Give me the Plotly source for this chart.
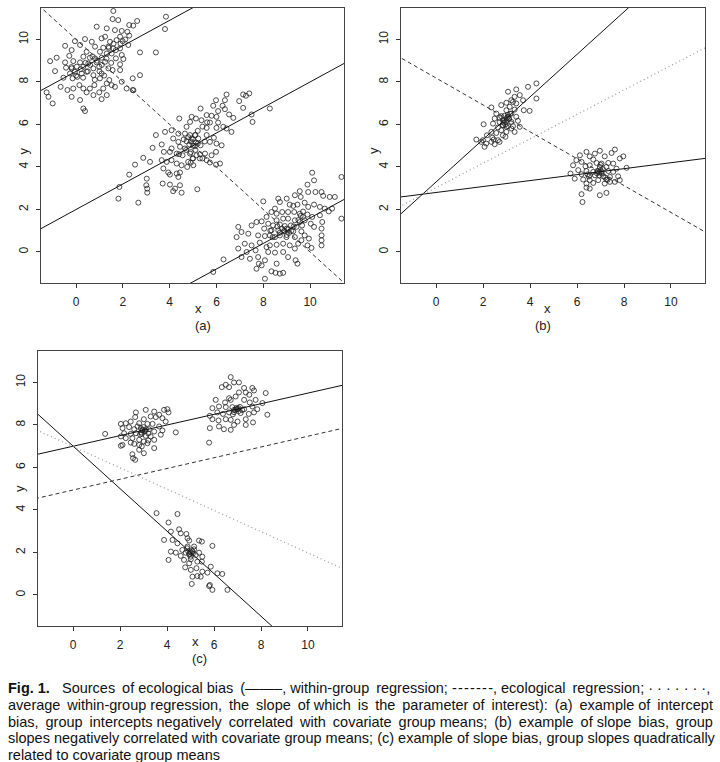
import plotly.graph_objects as go

# ---------- data: points (x, y) ----------
# panel (a), three groups
A1 = [(1.59, 11.34), (1.56, 10.96), (1.80, 10.91), (0.88, 10.6), (1.31, 10.52), (1.66, 10.44), (1.95, 10.4),
      (2.27, 10.68), (2.44, 10.65), (2.61, 10.87), (3.84, 11.07), (3.80, 10.49), (2.19, 10.36), (2.27, 10.18),
      (1.88, 10.13), (1.24, 10.13), (1.09, 10.05), (0.38, 10.02), (-0.05, 9.92), (0.67, 9.89), (1.45, 9.89),
      (1.73, 9.97), (1.99, 9.92), (-0.47, 9.70), (0.17, 9.74), (0.81, 9.66), (1.16, 9.61), (1.38, 9.66),
      (1.59, 9.58), (1.88, 9.58), (2.23, 9.74), (-0.19, 9.5), (0.45, 9.42), (1.02, 9.42), (1.31, 9.34),
      (1.52, 9.34), (1.95, 9.27), (2.73, 9.39), (3.41, 9.39), (-0.83, 9.14), (-0.29, 9.23), (0.31, 9.19),
      (0.59, 9.14), (0.81, 9.11), (1.09, 9.14), (1.70, 9.11), (2.02, 9.08), (-1.11, 8.98), (-0.47, 8.92),
      (-0.12, 8.98), (0.17, 8.92), (0.52, 8.87), (0.88, 8.92), (1.24, 8.95), (1.88, 8.83), (-0.43, 8.67),
      (-0.19, 8.64), (0.03, 8.72), (0.31, 8.72), (0.74, 8.64), (0.99, 8.72), (1.38, 8.64), (1.56, 8.56),
      (-0.9, 8.51), (-0.26, 8.4), (-0.05, 8.48), (0.24, 8.4), (0.45, 8.48), (0.74, 8.32), (1.09, 8.4),
      (1.88, 8.56), (2.73, 8.32), (-0.54, 8.2), (-0.15, 8.17), (0.05, 8.24), (1.02, 8.17), (1.42, 8.09),
      (1.95, 8.01), (2.42, 8.17), (-1.26, 7.51), (-1.18, 7.3), (-1.0, 6.99), (-0.66, 7.77), (-0.37, 7.62),
      (-0.12, 7.69), (0.14, 7.85), (0.31, 7.69), (0.45, 7.51), (0.59, 7.69), (0.78, 7.85), (0.99, 7.51),
      (1.16, 7.69), (1.31, 7.38), (1.52, 7.85), (1.66, 7.77), (1.31, 7.93), (-0.19, 7.3), (0.17, 7.15),
      (0.74, 7.38), (1.09, 7.19), (0.31, 6.75), (0.38, 6.63), (2.42, 7.62), (2.16, 7.69), (2.45, 7.61),
      (0.4, 8.9), (0.6, 8.8), (0.9, 9.0), (1.1, 8.8), (1.3, 9.1), (0.2, 8.6), (0.5, 8.5), (1.0, 8.5),
      (1.2, 8.3), (0.7, 9.2), (1.4, 9.6), (1.6, 9.8), (1.7, 9.5), (0.0, 8.3), (0.3, 8.2), (0.8, 8.1),
      (1.5, 8.9), (1.9, 9.8), (2.1, 10.0), (-0.2, 8.7)]
A2 = [(6.43, 7.41), (6.36, 7.14), (7.14, 7.41), (7.4, 7.46), (7.26, 7.35), (5.98, 7.14), (6.97, 7.1),
      (6.26, 6.88), (6.36, 6.72), (5.86, 6.88), (5.32, 6.75), (7.14, 6.78), (8.28, 6.75), (6.07, 6.63),
      (6.54, 6.47), (6.72, 6.31), (7.5, 6.47), (7.54, 6.12), (5.58, 6.44), (5.79, 6.41), (6.0, 6.36),
      (4.94, 6.36), (5.12, 6.28), (5.36, 6.2), (4.41, 6.28), (4.87, 6.12), (5.72, 6.09), (6.07, 6.09),
      (6.29, 5.89), (6.43, 5.81), (6.64, 5.65), (6.0, 5.84), (4.72, 5.89), (5.58, 5.84), (4.08, 5.73),
      (3.8, 5.65), (3.41, 5.5), (4.37, 5.57), (4.65, 5.57), (4.87, 5.5), (5.08, 5.5), (5.22, 5.34),
      (5.58, 5.5), (5.89, 5.37), (4.94, 5.34), (4.72, 5.21), (5.12, 5.15), (4.84, 5.06), (5.08, 4.99),
      (5.32, 5.02), (4.15, 5.34), (4.37, 5.18), (4.44, 4.95), (4.65, 4.87), (5.72, 5.18), (6.0, 5.1),
      (6.22, 5.02), (3.66, 5.06), (4.08, 4.87), (3.27, 4.9), (3.75, 4.71), (4.01, 4.71), (4.3, 4.63),
      (4.55, 4.55), (4.87, 4.63), (5.15, 4.55), (5.51, 4.63), (5.79, 4.55), (5.98, 4.71), (4.98, 4.4),
      (5.29, 4.4), (5.58, 4.32), (5.72, 4.21), (5.98, 4.11), (6.15, 4.16), (2.87, 4.43), (2.52, 4.11),
      (3.66, 4.32), (3.87, 4.24), (4.08, 4.32), (4.3, 4.16), (4.51, 4.08), (4.75, 4.0), (5.01, 4.08),
      (4.79, 4.24), (3.16, 4.24), (3.73, 3.93), (3.94, 3.74), (4.3, 3.69), (4.44, 3.74), (4.01, 3.64),
      (4.37, 3.53), (2.27, 3.64), (3.02, 3.45), (3.7, 3.22), (4.01, 3.17), (4.44, 3.14), (4.23, 2.98),
      (4.15, 2.86), (4.51, 2.79), (5.18, 2.95), (3.0, 3.14), (3.04, 2.98), (1.85, 3.06), (1.81, 2.51),
      (2.66, 2.32), (3.04, 2.79), (5.0, 5.3), (5.1, 5.5), (4.9, 5.2), (5.0, 5.0), (5.2, 5.1), (4.8, 5.4),
      (5.1, 4.8), (4.9, 4.7), (5.3, 4.6), (5.0, 4.4), (4.7, 4.8), (5.2, 5.7), (5.4, 5.9), (5.6, 6.1),
      (4.6, 5.3), (4.4, 4.6), (5.5, 5.2), (4.9, 4.2), (5.4, 4.4)]
A3 = [(10.09, 3.73), (10.17, 3.37), (9.89, 3.17), (9.56, 2.86), (9.35, 2.67), (9.6, 2.59), (9.92, 2.82),
      (10.23, 2.82), (10.49, 2.82), (10.56, 2.64), (10.84, 2.59), (11.06, 2.59), (11.34, 3.53), (11.34, 1.57),
      (8.0, 2.38), (8.64, 2.51), (8.71, 2.35), (9.0, 2.51), (9.13, 2.23), (9.28, 2.17), (9.46, 2.23),
      (9.77, 2.32), (9.92, 2.12), (10.17, 2.23), (10.42, 2.12), (10.63, 2.04), (10.8, 1.91), (10.94, 2.04),
      (8.5, 2.04), (8.35, 1.88), (8.57, 1.8), (8.81, 1.88), (9.06, 1.88), (9.32, 1.88), (9.56, 1.8),
      (9.7, 1.65), (9.89, 1.76), (10.09, 1.65), (10.42, 1.73), (10.52, 1.41), (9.77, 1.49), (9.56, 1.41),
      (9.35, 1.49), (9.06, 1.57), (8.85, 1.57), (8.57, 1.49), (8.14, 1.65), (7.93, 1.44), (7.71, 1.41),
      (7.5, 1.25), (8.21, 1.33), (8.42, 1.25), (8.71, 1.29), (8.92, 1.22), (9.18, 1.25), (9.42, 1.18),
      (9.66, 1.25), (10.03, 1.33), (10.17, 1.18), (8.04, 1.1), (8.35, 1.02), (8.64, 1.02), (8.89, 0.97),
      (9.06, 1.07), (9.28, 0.97), (9.63, 0.97), (10.49, 1.1), (6.93, 1.18), (7.07, 0.94), (7.36, 0.86),
      (7.78, 0.78), (8.07, 0.75), (8.28, 0.78), (8.5, 0.7), (8.71, 0.78), (8.99, 0.7), (9.35, 0.7),
      (9.77, 0.78), (9.95, 0.63), (10.49, 0.78), (6.86, 0.7), (7.21, 0.39), (7.5, 0.31), (7.85, 0.44),
      (8.14, 0.23), (8.28, 0.31), (8.57, 0.34), (8.85, 0.39), (9.13, 0.31), (9.49, 0.39), (9.63, 0.55),
      (9.89, 0.31), (10.49, 0.55), (10.49, 0.31), (6.93, 0.16), (7.29, 0.0), (7.67, 0.08), (8.21, 0.0),
      (8.5, -0.03), (8.85, 0.0), (9.35, 0.16), (10.06, 0.19), (7.07, -0.24), (7.43, -0.32), (7.78, -0.24),
      (8.07, -0.39), (9.06, -0.24), (9.38, -0.39), (9.46, -0.55), (7.81, -0.55), (7.71, -0.79), (7.93, -0.63),
      (8.35, -0.91), (8.52, -0.98), (8.71, -1.02), (8.85, -0.98), (8.07, -1.26), (8.57, -0.55),
      (8.9, 1.0), (9.0, 1.1), (9.1, 0.9), (8.8, 1.1), (9.2, 1.0), (8.7, 0.9), (9.0, 0.8), (8.6, 1.2),
      (9.3, 1.2), (9.6, 1.7), (9.7, 1.9), (9.5, 1.5), (8.4, 0.7), (8.3, 1.0), (5.86, -0.94), (6.3, -0.35)]

# panel (b), two groups
B1 = [(4.27, 7.93), (3.91, 7.77), (3.41, 7.65), (3.06, 7.54), (4.27, 7.22), (3.56, 7.38), (3.34, 7.3),
      (3.70, 7.14), (3.20, 7.14), (2.99, 7.02), (2.77, 6.91), (3.41, 6.99), (3.73, 6.67), (3.98, 6.64),
      (3.34, 6.7), (2.35, 6.8), (2.99, 6.67), (3.2, 6.51), (2.56, 6.51), (2.77, 6.39), (3.06, 6.36),
      (3.41, 6.36), (2.49, 6.28), (2.99, 6.17), (2.7, 6.12), (3.2, 6.12), (3.48, 6.17), (2.02, 6.01),
      (2.42, 6.04), (2.84, 5.97), (3.06, 5.92), (3.27, 5.92), (2.63, 5.86), (3.56, 5.89), (2.77, 5.73),
      (2.99, 5.65), (3.2, 5.81), (3.34, 5.65), (2.35, 5.65), (2.56, 5.6), (2.84, 5.49), (2.95, 5.42),
      (2.16, 5.49), (2.39, 5.38), (1.71, 5.29), (1.99, 5.26), (2.45, 5.29), (2.63, 5.26), (2.13, 5.1),
      (2.35, 5.18), (2.49, 5.07), (1.92, 5.18), (2.06, 4.95), (2.7, 5.18), (2.84, 6.2), (2.7, 6.3),
      (2.91, 6.41), (3.13, 6.83), (3.27, 7.06), (2.99, 5.89), (3.1, 6.28), (2.87, 6.09),
      (2.9, 6.2), (3.0, 6.3), (3.1, 6.25), (2.95, 6.0), (3.05, 6.45), (2.85, 5.95), (3.15, 6.5)]
B2 = [(6.4, 4.71), (6.12, 4.55), (6.76, 4.63), (6.97, 4.76), (7.61, 4.82), (7.47, 4.66), (7.97, 4.5),
      (7.82, 4.4), (7.18, 4.5), (6.54, 4.5), (5.97, 4.32), (6.19, 4.24), (6.69, 4.35), (6.83, 4.19),
      (7.04, 4.16), (7.33, 4.19), (7.54, 4.16), (5.83, 4.08), (6.36, 4.03), (6.54, 4.08), (6.97, 4.0),
      (7.25, 4.0), (7.68, 3.92), (8.11, 3.96), (6.05, 3.85), (6.4, 3.81), (6.69, 3.77), (6.86, 3.81),
      (7.04, 3.77), (7.33, 3.81), (7.54, 3.77), (5.72, 3.69), (6.19, 3.66), (6.54, 3.61), (6.76, 3.61),
      (7.11, 3.56), (7.4, 3.53), (7.75, 3.56), (5.9, 3.45), (6.26, 3.41), (6.54, 3.38), (6.9, 3.38),
      (7.25, 3.41), (7.61, 3.3), (7.82, 3.38), (6.4, 3.22), (6.69, 3.25), (7.18, 3.22), (7.4, 3.3),
      (6.4, 3.03), (6.54, 2.98), (6.97, 2.67), (7.25, 2.78), (6.19, 2.72), (6.23, 2.35),
      (6.95, 3.75), (7.0, 3.85), (7.05, 3.7), (6.9, 3.8), (7.1, 3.9), (6.85, 3.7), (7.0, 4.1),
      (6.95, 3.6), (7.2, 3.5), (7.3, 3.4), (6.5, 3.55), (6.45, 3.65)]

# panel (c), three groups
C1 = [(1.36, 7.58), (2.03, 8.05), (2.24, 8.08), (2.67, 8.59), (2.64, 8.37), (3.09, 8.71), (3.45, 8.63),
      (3.66, 8.48), (3.87, 8.71), (4.01, 8.74), (4.06, 8.59), (3.3, 8.4), (3.52, 8.37), (3.8, 8.32),
      (3.94, 8.16), (3.01, 8.27), (2.45, 8.16), (2.81, 8.08), (3.16, 8.05), (3.38, 8.05), (3.66, 7.93),
      (3.8, 7.74), (3.73, 7.54), (4.37, 7.65), (2.1, 7.85), (2.38, 7.9), (2.6, 7.8), (2.74, 7.93),
      (2.95, 7.77), (3.23, 7.8), (3.45, 7.69), (2.17, 7.61), (2.45, 7.58), (2.67, 7.61), (2.92, 7.58),
      (3.09, 7.49), (3.3, 7.46), (2.03, 7.46), (2.24, 7.38), (2.52, 7.38), (2.81, 7.3), (3.01, 7.22),
      (3.2, 7.27), (3.45, 7.3), (2.1, 7.06), (2.45, 7.17), (2.6, 7.11), (2.03, 7.02), (2.81, 7.06),
      (3.16, 7.14), (3.45, 6.91), (2.81, 6.83), (2.52, 6.62), (3.01, 6.67), (2.55, 6.44), (2.64, 6.36),
      (2.92, 6.99), (3.06, 7.74), (2.88, 7.85), (2.95, 7.75), (3.05, 7.7), (2.9, 7.65), (3.1, 7.8),
      (3.0, 7.9), (2.85, 7.55), (3.2, 7.6)]
C2 = [(6.71, 10.25), (6.85, 10.0), (7.06, 10.0), (6.5, 9.89), (6.33, 9.78), (6.64, 9.78), (7.28, 9.74),
      (7.63, 9.74), (7.7, 9.62), (7.06, 9.53), (7.35, 9.53), (7.5, 9.42), (8.2, 9.5), (6.92, 9.34),
      (6.71, 9.18), (6.07, 9.18), (6.47, 9.06), (7.28, 9.18), (7.52, 9.06), (7.77, 9.18), (8.06, 9.03),
      (5.93, 8.79), (6.21, 8.87), (6.5, 8.84), (6.78, 8.84), (7.04, 8.79), (7.28, 8.74), (7.63, 8.87),
      (7.84, 8.74), (5.82, 8.43), (6.14, 8.59), (6.38, 8.52), (6.64, 8.59), (6.85, 8.71), (6.95, 8.74),
      (7.13, 8.56), (7.48, 8.52), (7.7, 8.59), (8.27, 8.48), (5.93, 8.27), (6.19, 8.21), (6.5, 8.27),
      (6.71, 8.24), (7.0, 8.16), (7.35, 8.27), (7.66, 8.12), (5.82, 7.85), (6.21, 7.93), (6.42, 7.8),
      (6.71, 7.77), (6.85, 8.0), (7.35, 8.0), (5.79, 7.17), (6.64, 9.26),
      (6.9, 8.7), (7.0, 8.75), (7.05, 8.65), (6.95, 8.8), (6.85, 8.6), (7.1, 8.85), (7.2, 8.7), (6.8, 8.5)]
C3 = [(3.55, 3.85), (4.44, 3.81), (4.06, 3.41), (4.16, 2.98), (4.51, 3.09), (4.58, 2.9), (3.87, 2.59),
      (4.23, 2.59), (4.44, 2.43), (4.82, 2.87), (4.87, 2.67), (4.94, 2.56), (5.36, 2.56), (5.48, 2.51),
      (5.93, 2.31), (4.16, 2.04), (4.37, 1.99), (4.65, 2.12), (4.79, 1.99), (4.94, 1.93), (5.08, 2.04),
      (5.22, 1.88), (5.36, 1.99), (5.5, 1.8), (4.58, 1.84), (4.06, 1.65), (4.72, 1.65), (5.01, 1.68),
      (5.29, 1.57), (5.48, 1.57), (4.77, 1.3), (5.01, 1.18), (5.25, 1.26), (5.5, 1.1), (5.86, 1.33),
      (6.14, 1.02), (6.35, 0.99), (5.08, 0.86), (5.29, 0.89), (5.43, 0.86), (5.05, 0.52), (5.82, 0.47),
      (5.93, 0.24), (5.79, 0.42), (6.57, 0.24), (5.72, 1.05), (4.87, 2.28), (5.15, 2.28), (4.94, 1.49),
      (5.0, 2.0), (4.95, 1.9), (5.05, 2.1), (4.9, 2.05), (5.1, 1.95), (5.0, 1.8), (4.85, 2.2), (5.15, 2.15)]

# regression lines: (intercept, slope)
A_WITHIN = [(8.5, 0.6), (2.0, 0.6), (-4.4, 0.6)]
A_ECO = (10.0, -1.0)
B_WITHIN = [(3.3, 1.0), (2.8, 0.14)]
B_ECO = (8.18, -0.632)
B_AVG = (3.03, 0.574)
C_WITHIN = [(7.0, 0.25), (7.0, -1.0)]
C_ECO = (4.94, 0.253)
C_AVG = (6.98, -0.5)

TICKS = [0, 2, 4, 6, 8, 10]
XR = [-1.5, 11.45]
YR = [-1.46, 11.48]

NB = "\u00a0"
HAIR = "\u200a"
SOLID_KEY = "——–"
DASH_KEY = HAIR.join("-" * 7)
DOT_KEY = NB.join("·" * 7)

CAPTION = [
    "<b>Fig. 1.</b>" + NB * 3 + "Sources of ecological bias (" + SOLID_KEY + ", within-group regression; "
    + DASH_KEY + ", ecological regression; " + DOT_KEY + ",",
    "average within-group regression, the slope of which is the parameter of interest): (a) example of intercept",
    "bias, group intercepts negatively correlated with covariate group means; (b) example of slope bias, group",
    "slopes negatively correlated with covariate group means; (c) example of slope bias, group slopes quadratically",
    "related to covariate group means",
]
# extra thin spaces per line, to imitate the justified block of the original
CAPTION_PAD = [4, 11, 11, 0, 0]

FONT = "Liberation Sans, Arial, Helvetica, sans-serif"
W, H = 720, 762


def spread(line, n):
    # add n thin spaces, spread over the word gaps
    if n == 0:
        return line
    words = line.split(" ")
    gaps = len(words) - 1
    out = words[0]
    used = 0
    for i in range(1, len(words)):
        want = round(i * n / gaps)
        out += " " + "\u2009" * (want - used) + words[i]
        used = want
    return out


fig = go.Figure()


def add_points(pts, n):
    fig.add_trace(go.Scatter(
        x=[p[0] for p in pts], y=[p[1] for p in pts], mode="markers",
        marker=dict(symbol="circle-open", size=5, color="#222", line=dict(width=0.8)),
        xaxis="x" + n, yaxis="y" + n, showlegend=False, hoverinfo="skip"))


def add_line(ab, n, dash="solid", color="#111", width=1):
    # like abline(): draw across the full axis range, clipped by the plot area
    a, b = ab
    xs = [XR[0] - 1, XR[1] + 1]
    fig.add_trace(go.Scatter(
        x=xs, y=[a + b * x for x in xs], mode="lines",
        line=dict(color=color, width=width, dash=dash),
        xaxis="x" + n, yaxis="y" + n, showlegend=False, hoverinfo="skip"))


DASH = "4px,3px"
DOT = "1px,3px"

# (a)
for g in (A1, A2, A3):
    add_points(g, "")
for ab in A_WITHIN:
    add_line(ab, "")
add_line(A_ECO, "", dash=DASH, color="#333")

# (b)
for g in (B1, B2):
    add_points(g, "2")
for ab in B_WITHIN:
    add_line(ab, "2")
add_line(B_ECO, "2", dash=DASH, color="#333")
add_line(B_AVG, "2", dash=DOT, color="#999", width=1.2)

# (c)
for g in (C1, C2, C3):
    add_points(g, "3")
for ab in C_WITHIN:
    add_line(ab, "3")
add_line(C_ECO, "3", dash=DASH, color="#333")
add_line(C_AVG, "3", dash=DOT, color="#999", width=1.2)


def px_x(p):
    return p / W


def px_y(p):
    return 1 - p / H


# panel boxes in pixels: left, right, top, bottom
BOXES = {"": (41, 344, 8, 283), "2": (401, 705, 8, 283), "3": (38, 342, 351, 626)}
LABELS = {"": "(a)", "2": "(b)", "3": "(c)"}

axis_common = dict(
    tickvals=TICKS, ticks="outside", ticklen=4, tickcolor="#333", tickwidth=1,
    showline=True, mirror=True, linecolor="#444", linewidth=1,
    showgrid=False, zeroline=False, fixedrange=True,
    tickfont=dict(family=FONT, size=12, color="#222"),
)

layout = {}
annotations = []
for n, (l, r, t, b) in BOXES.items():
    layout["xaxis" + n] = dict(axis_common, range=XR, domain=[px_x(l), px_x(r)],
                               anchor="y" + n, ticklabelstandoff=4)
    layout["yaxis" + n] = dict(axis_common, range=YR, domain=[px_y(b), px_y(t)],
                               anchor="x" + n, tickangle=-90, ticklabelstandoff=3)
    cx = (l + r) / 2
    annotations.append(dict(x=px_x(cx), y=px_y(b + 25), text="x", showarrow=False,
                            xref="paper", yref="paper", font=dict(family=FONT, size=13, color="#222")))
    annotations.append(dict(x=px_x(l - 28), y=px_y((t + b) / 2), text="y", showarrow=False,
                            xref="paper", yref="paper", textangle=-90,
                            font=dict(family=FONT, size=13, color="#222")))
    annotations.append(dict(x=px_x(cx), y=px_y(b + 42), text=LABELS[n], showarrow=False,
                            xref="paper", yref="paper", font=dict(family=FONT, size=13, color="#222")))

for i, line in enumerate(CAPTION):
    annotations.append(dict(x=px_x(6), y=px_y(688 + i * 16.75), text=spread(line, CAPTION_PAD[i]),
                            showarrow=False, xref="paper", yref="paper",
                            xanchor="left", yanchor="middle",
                            font=dict(family=FONT, size=14.5, color="#111")))

fig.update_layout(
    width=W, height=H,
    margin=dict(l=0, r=0, t=0, b=0),
    paper_bgcolor="white", plot_bgcolor="white",
    annotations=annotations,
    **layout
)

# the page body has a default margin; drop it so the figure sits at the window corner
fig.write_html("out.html", config={"displayModeBar": False},
               post_script="document.body.style.margin='0';")
